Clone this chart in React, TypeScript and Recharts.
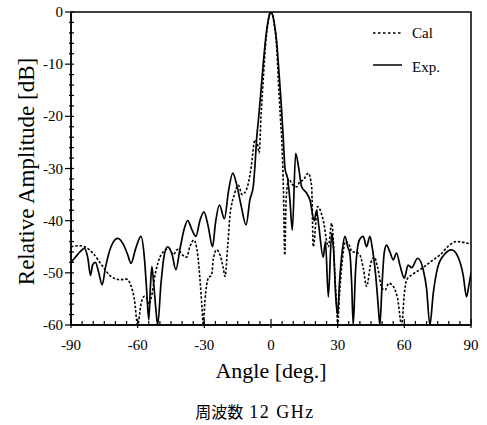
import React from 'react';
import { LineChart, Line, XAxis, YAxis, ReferenceArea, Legend, Label } from 'recharts';

const angleMajorTicks = [-90, -60, -30, 0, 30, 60, 90];
const ampMajorTicks = [0, -10, -20, -30, -40, -50, -60];
const angleAllTicks: number[] = [];
for (let a = -90; a <= 90; a += 5) angleAllTicks.push(a);
const ampAllTicks: number[] = [];
for (let v = 0; v >= -60; v -= 2) ampAllTicks.push(v);

const xTitle = 'Angle [deg.]';
const yTitle = 'Relative Amplitude [dB]';
const captionCJK = '周波数';
const captionLatin = ' 12 GHz';
const seriesNames = ['Cal', 'Exp.'];

// Calculated pattern [angle deg, dB]
const calPoints: [number, number][] = [
  [-90, -45], [-86, -44.8], [-83, -45.2], [-80, -46.3], [-76, -48.6], [-72, -50.7], [-68, -51.3],
  [-65, -51.2], [-63, -52.5], [-61.5, -55], [-60, -60], [-58.5, -56], [-57, -54.5], [-56, -54.8],
  [-55, -56], [-54, -55], [-52, -50], [-50, -47], [-48, -45.8], [-46, -45.3], [-44, -46.5],
  [-42, -45.5], [-40, -46.5], [-38, -47], [-36.5, -45], [-34.7, -43.7], [-33, -46.5], [-32, -51],
  [-31, -57], [-30.5, -60], [-29.7, -55.2], [-28.2, -51], [-26.7, -50.4], [-26, -47.5], [-24.5, -45.6],
  [-23, -46.5], [-21.5, -49], [-20.7, -50.7], [-19.5, -45], [-18.5, -39.2], [-16.5, -35], [-14.7, -33.2],
  [-13, -35], [-11, -34], [-9, -30], [-7.2, -24.5], [-6, -25.5], [-5.3, -27], [-4.5, -20], [-3.5, -13],
  [-2.5, -6.5], [-1.5, -2.5], [-0.7, -0.5], [0, 0], [0.7, -0.5], [1.5, -2.5], [2.5, -6.5], [3.3, -13],
  [4.2, -20], [5, -26], [5.6, -34], [6.2, -46.6], [6.8, -36], [8, -32], [9.5, -33], [11.6, -33.5],
  [13, -32.5], [14.5, -32.2], [16.8, -30.9], [18.3, -33.5], [19, -45], [21, -37.3], [23.5, -39.9],
  [25.8, -45], [27.3, -40.5], [28.2, -45], [28.8, -51], [29.5, -56], [30, -60], [30.7, -55], [32, -48],
  [33.5, -44], [35, -44.5], [36.5, -46], [38, -46], [40, -46.6], [41.5, -49], [43, -52.6], [45, -48],
  [46.5, -47], [48, -49], [50, -53], [51.3, -53.3], [53, -52], [55, -52.6], [57, -55], [58.8, -60],
  [60, -54], [61, -51.4], [64, -50.2], [67, -49.4], [70, -48.5], [73, -47.5], [76, -46.6], [80, -44.8],
  [83.6, -44], [87, -44.2], [90, -44.5],
];

// Experimental pattern [angle deg, dB]
const expPoints: [number, number][] = [
  [-90, -48], [-88, -47], [-86, -46], [-84, -45.3], [-82.5, -47], [-81.2, -50.5], [-80.3, -48.5],
  [-79, -48], [-77.5, -50], [-76, -52.3], [-74.5, -49], [-72, -45], [-69, -43.4], [-66.5, -44.5],
  [-64.5, -46.5], [-63, -48.2], [-61, -45.5], [-58.5, -43], [-57, -47], [-56, -53], [-55, -59],
  [-54.3, -53], [-53.6, -48.8], [-52.8, -52], [-51.8, -57], [-51, -60], [-49.5, -52], [-48, -46.5],
  [-46.5, -45], [-44.5, -46.5], [-42.8, -49.4], [-41, -45.5], [-39, -41.5], [-37.5, -40], [-35.5, -41.8],
  [-33.8, -43], [-32, -40], [-30.2, -38.3], [-28.3, -41], [-26.3, -45], [-25, -40.5], [-23.2, -37],
  [-21, -39.6], [-19, -34], [-17.2, -30.9], [-15.5, -33], [-13.5, -37], [-11.2, -40.8], [-9.5, -36],
  [-8, -33.5], [-7, -28], [-6.5, -24.5], [-5.5, -20], [-4.5, -15], [-3.5, -10], [-2.5, -5.5],
  [-1.5, -2.2], [-0.5, -0.3], [0, 0], [0.5, -0.3], [1.5, -2.2], [2.5, -5.5], [3.5, -11], [4.5, -17],
  [5.5, -24], [6.3, -30], [7.5, -32], [8.5, -36], [9.6, -41.8], [11.1, -27.1], [12.5, -30], [13.8, -33.5],
  [16, -34.7], [17.5, -36], [19.5, -40], [20.5, -38], [21.5, -41], [23.5, -47], [24.5, -44], [25.8, -54.6],
  [27.3, -42.4], [28.2, -46], [29.2, -55], [30, -58], [30.8, -52], [32, -46], [33.3, -43], [34.5, -45],
  [35.5, -46.3], [36.3, -52], [37, -60], [38, -50], [39, -45], [40, -43.5], [41.5, -43], [43, -45],
  [44.5, -43], [45.5, -45], [47, -50], [48.2, -56], [49, -60], [50, -52], [51, -46], [52, -44.7],
  [53.5, -46], [55, -47.5], [56.5, -46.2], [58, -48.5], [60, -51], [61.7, -48.5], [63.3, -49], [66, -47.2],
  [68.5, -49.4], [70, -53], [71.5, -60], [73, -54], [75, -49], [78, -46.5], [81.3, -45.6], [84, -46.8],
  [86.5, -50.5], [88, -54.6], [89, -52.5], [90, -50],
];

const calData = calPoints.map(([a, v]) => ({ a, v }));
const expData = expPoints.map(([a, v]) => ({ a, v }));

const FONT = "'Liberation Serif', 'Times New Roman', 'Noto Sans CJK JP', serif";

const XTick = (props: any) => {
  const { x, y, payload } = props;
  const major = angleMajorTicks.includes(payload.value);
  return (
    <g>
      <line x1={x} x2={x} y1={y + (major ? 3 : 0)} y2={y - (major ? 6 : 4)} stroke="#000" strokeWidth={1.2} />
      {major && (
        <text x={x} y={y + 25} textAnchor="middle" fontSize={15} fontFamily={FONT} fill="#000">
          {payload.value}
        </text>
      )}
    </g>
  );
};

const YTick = (props: any) => {
  const { x, y, payload } = props;
  const major = ampMajorTicks.includes(payload.value);
  return (
    <g>
      <line x1={x - (major ? 6 : 2)} x2={x + 3} y1={y} y2={y} stroke="#000" strokeWidth={1.2} />
      {major && (
        <text x={x - 8} y={y + 5} textAnchor="end" fontSize={15} fontFamily={FONT} fill="#000">
          {payload.value}
        </text>
      )}
    </g>
  );
};

const XTitle = (props: any) => {
  const vb = props.viewBox || { x: 71, y: 325, width: 400, height: 60 };
  const cx = vb.x + vb.width / 2;
  return (
    <g>
      <text x={cx} y={vb.y + 53} textAnchor="middle" fontSize={22} fontFamily={FONT} fill="#000">
        {xTitle}
      </text>
      <text x={cx - 16} y={vb.y + 93} textAnchor="middle" fontFamily={FONT} fill="#000">
        <tspan fontSize={16}>{captionCJK}</tspan>
        <tspan fontSize={18} letterSpacing={1.5}>{captionLatin}</tspan>
      </text>
    </g>
  );
};

const YTitle = (props: any) => {
  const vb = props.viewBox || { x: 0, y: 12, width: 71, height: 313 };
  const cx = 26;
  const cy = vb.y + vb.height / 2 + 3;
  return (
    <text
      x={cx}
      y={cy}
      transform={`rotate(-90 ${cx} ${cy})`}
      textAnchor="middle"
      dominantBaseline="central"
      fontSize={23}
      fontFamily={FONT}
      fill="#000"
    >
      {yTitle}
    </text>
  );
};

const LegendBox = () => (
  <svg width={110} height={64} style={{ display: 'block' }}>
    <line x1={8} x2={37} y1={15} y2={15} stroke="#000" strokeWidth={1.5} strokeDasharray="2.5 2.5" />
    <text x={47} y={20} fontSize={15} fontFamily={FONT} fill="#000">{seriesNames[0]}</text>
    <line x1={8} x2={37} y1={47} y2={47} stroke="#000" strokeWidth={1.5} />
    <text x={47} y={54} fontSize={15} fontFamily={FONT} fill="#000">{seriesNames[1]}</text>
  </svg>
);

export default function App() {
  return (
    <div style={{ position: 'absolute', left: 0, top: 0, width: 487, height: 425, background: '#fff' }}>
      <LineChart width={487} height={425} margin={{ top: 12, right: 16, left: 0, bottom: 40 }}>
        <XAxis
          type="number"
          dataKey="a"
          domain={[-90, 90]}
          ticks={angleAllTicks}
          interval={0}
          tick={<XTick />}
          tickLine={false}
          tickSize={0}
          tickMargin={0}
          axisLine={{ stroke: '#000', strokeWidth: 1.5 }}
          height={60}
          allowDataOverflow
        >
          <Label content={<XTitle />} />
        </XAxis>
        <YAxis
          type="number"
          dataKey="v"
          domain={[-60, 0]}
          ticks={ampAllTicks}
          interval={0}
          tick={<YTick />}
          tickLine={false}
          tickSize={0}
          tickMargin={0}
          axisLine={{ stroke: '#000', strokeWidth: 1.5 }}
          width={71}
          allowDataOverflow
        >
          <Label content={<YTitle />} />
        </YAxis>
        <ReferenceArea x1={-90} x2={90} y1={-60} y2={0} fill="none" stroke="#000" strokeWidth={1.5} />
        <Legend
          layout="horizontal"
          verticalAlign="middle"
          align="center"
          content={<LegendBox />}
          wrapperStyle={{ position: 'absolute', left: 365, top: 18, width: 110, height: 64 }}
        />
        <Line
          data={calData}
          dataKey="v"
          name="Cal"
          type="monotone"
          stroke="#000"
          strokeWidth={1.6}
          strokeDasharray="2.5 1.8"
          dot={false}
          activeDot={false}
          isAnimationActive={false}
        />
        <Line
          data={expData}
          dataKey="v"
          name="Exp."
          type="monotone"
          stroke="#000"
          strokeWidth={1.7}
          dot={false}
          activeDot={false}
          isAnimationActive={false}
        />
      </LineChart>
    </div>
  );
}
